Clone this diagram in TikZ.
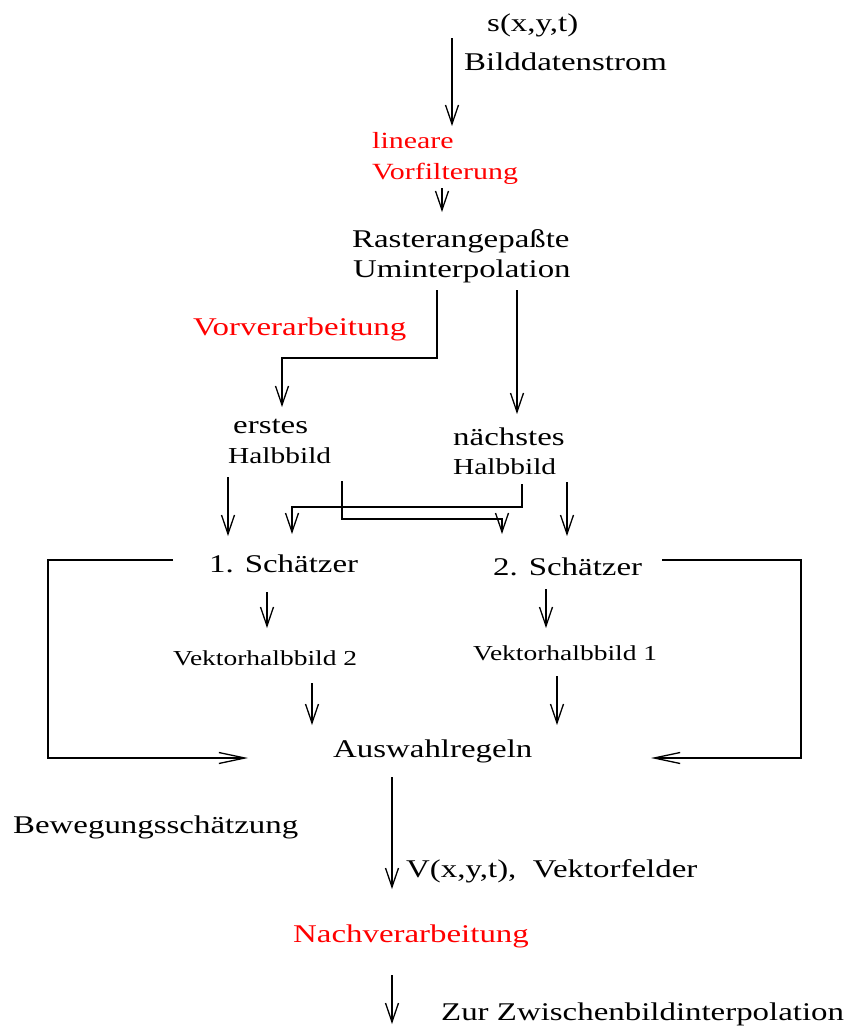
\documentclass[tikz,border=0pt]{standalone}
\usepackage{fontspec}
\setmainfont{Liberation Serif}[FakeStretch=1.29]
\usetikzlibrary{arrows.meta}
\begin{document}
\begin{tikzpicture}[x=1pt,y=-1pt,
  lbl/.style={anchor=base west,inner sep=0pt,font=\fontsize{25.5}{30}\selectfont},
  smalllbl/.style={lbl,font=\fontsize{22.8}{27}\selectfont},
  vlbl/.style={lbl,font=\fontsize{21.3}{26}\selectfont},
  redlbl/.style={lbl,text={rgb,255:red,255;green,0;blue,0}},
  flow/.style={line width=1.3pt,-{Straight Barb[length=19pt,width=13pt,line width=1.3pt]}},
  feedback/.style={line width=1.3pt,-{Straight Barb[length=26pt,width=11pt,line width=1.3pt]}}]
\useasboundingbox (0,0) rectangle (850,1026);

% labels
\node[lbl] (sig) at (487,31) {s(x,y,t)};
\node[lbl] (strom) at (464,70) {Bilddatenstrom};
\node[redlbl,font=\fontsize{23.2}{28}\selectfont] (lin) at (372,148) {lineare};
\node[redlbl,font=\fontsize{23.2}{28}\selectfont] (vorf) at (372,179) {Vorfilterung};
\node[lbl] (raster) at (352,247) {Rasterangepaßte};
\node[lbl] (umint) at (353,277) {Uminterpolation};
\node[redlbl] (vorv) at (193,335) {Vorverarbeitung};
\node[lbl] (erst) at (233,433) {erstes};
\node[smalllbl] (hb1) at (228,463) {Halbbild};
\node[lbl] (naechst) at (453,445) {nächstes};
\node[smalllbl] (hb2) at (453,474) {Halbbild};
\node[lbl] (sch1) at (209,572) {1. Schätzer};
\node[lbl] (sch2) at (493,575) {2. Schätzer};
\node[vlbl] (vek2) at (173,665) {Vektorhalbbild 2};
\node[vlbl] (vek1) at (473,660) {Vektorhalbbild 1};
\node[lbl] (ausw) at (333,757) {Auswahlregeln};
\node[lbl] (beweg) at (13,833) {Bewegungsschätzung};
\node[lbl] (vfeld) at (406,877) {V(x,y,t),\ \ Vektorfelder};
\node[redlbl] (nach) at (293,942) {Nachverarbeitung};
\node[lbl] (zur) at (441,1020) {Zur Zwischenbildinterpolation};

% connector end points
\coordinate (a1s) at (452,38);  \coordinate (a1e) at (452,126);
\coordinate (a2s) at (442,188); \coordinate (a2e) at (442,212);
\coordinate (rl) at (437,290);  \coordinate (rlb) at (437,358);
\coordinate (rlc) at (282,358); \coordinate (rle) at (282,407);
\coordinate (rr) at (517,290);  \coordinate (rre) at (517,414);
\coordinate (h1a) at (228,477); \coordinate (h1e) at (228,536);
\coordinate (h1b) at (342,481); \coordinate (h1c) at (342,519);
\coordinate (h1d) at (502,519); \coordinate (h1f) at (502,534);
\coordinate (h2b) at (522,484); \coordinate (h2c) at (522,507);
\coordinate (h2d) at (292,507); \coordinate (h2e) at (292,534);
\coordinate (h2a) at (567,482); \coordinate (h2f) at (567,536);
\coordinate (s1a) at (267,592); \coordinate (s1e) at (267,628);
\coordinate (s2a) at (546,589); \coordinate (s2e) at (546,628);
\coordinate (v2a) at (312,683); \coordinate (v2e) at (312,725);
\coordinate (v1a) at (557,676); \coordinate (v1e) at (557,725);
\coordinate (fl0) at (173,560); \coordinate (fl1) at (48,560);
\coordinate (fl2) at (48,758);  \coordinate (fl3) at (248,758);
\coordinate (fr0) at (662,560); \coordinate (fr1) at (801,560);
\coordinate (fr2) at (801,758); \coordinate (fr3) at (651,758);
\coordinate (aa) at (392,777);  \coordinate (ae) at (392,889);
\coordinate (na) at (392,975);  \coordinate (ne) at (392,1024);

% image stream and pre-processing
\draw[flow] (a1s) -- (a1e);
\draw[flow] (a2s) -- (a2e);
\draw[flow] (rl) -- (rlb) -- (rlc) -- (rle);
\draw[flow] (rr) -- (rre);

% field inputs to the two estimators
\draw[flow] (h1a) -- (h1e);
\draw[flow] (h1b) -- (h1c) -- (h1d) -- (h1f);
\draw[flow] (h2b) -- (h2c) -- (h2d) -- (h2e);
\draw[flow] (h2a) -- (h2f);

% estimators to vector fields to selection
\draw[flow] (s1a) -- (s1e);
\draw[flow] (s2a) -- (s2e);
\draw[flow] (v2a) -- (v2e);
\draw[flow] (v1a) -- (v1e);

% feedback around the estimators
\draw[feedback] (fl0) -- (fl1) -- (fl2) -- (fl3);
\draw[feedback] (fr0) -- (fr1) -- (fr2) -- (fr3);

% output
\draw[flow] (aa) -- (ae);
\draw[flow] (na) -- (ne);
\end{tikzpicture}
\end{document}
